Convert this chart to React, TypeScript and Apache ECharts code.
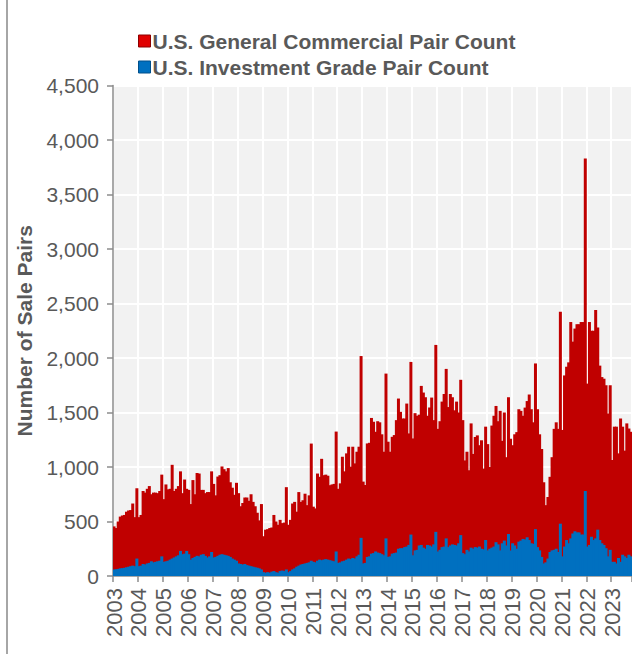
import { useEffect, useRef } from "react";
import * as echarts from "echarts";

const years = [
  2003, 2004, 2005, 2006, 2007, 2008, 2009, 2010, 2011, 2012, 2013,
  2014, 2015, 2016, 2017, 2018, 2019, 2020, 2021, 2022, 2023,
];

const generalCommercial = [
  // 2003
  455, 440, 500, 545, 555, 560, 590, 600, 605, 665, 540, 805,
  // 2004
  540, 560, 780, 765, 800, 825, 750, 765, 765, 760, 780, 930,
  // 2005
  705, 840, 795, 800, 1020, 780, 800, 825, 960, 760, 885, 800,
  // 2006
  790, 660, 880, 750, 945, 940, 790, 790, 760, 770, 770, 960,
  // 2007
  845, 740, 912, 925, 1005, 980, 960, 990, 860, 810, 745, 855,
  // 2008
  760, 640, 670, 720, 720, 690, 750, 680, 640, 580, 510, 660,
  // 2009
  365, 425, 430, 440, 445, 560, 500, 470, 515, 485, 490, 815,
  // 2010
  470, 515, 665, 680, 590, 770, 680, 695, 755, 650, 740, 1215,
  // 2011
  636, 620, 940, 910, 1075, 925, 930, 920, 833, 840, 845, 1325,
  // 2012
  800, 850, 1094, 960, 1125, 1186, 1003, 1186, 1033, 1140, 1186, 2018,
  // 2013
  866, 835, 1216, 1222, 1450, 1415, 1323, 1420, 1410, 1300, 1140, 1857,
  // 2014
  1232, 1140, 1277, 1293, 1430, 1628, 1506, 1445, 1445, 1582, 1308, 1964,
  // 2015
  1262, 1494, 1470, 1480, 1744, 1683, 1640, 1470, 1546, 1637, 1430, 2120,
  // 2016
  1350, 1420, 1600, 1670, 1900, 1550, 1670, 1640, 1520, 1600, 1500, 1800,
  // 2017
  1430, 1060, 1140, 970, 1400, 1120, 1275, 1290, 1200, 1245, 985, 1370,
  // 2018
  1210, 1000, 1380, 1470, 1560, 1420, 1515, 1240, 1500, 1090, 1640, 1260,
  // 2019
  1200, 1300, 1320, 1530, 1515, 1470, 1545, 1605, 1665, 1530, 1410, 1950,
  // 2020
  1530, 1300, 1165, 860, 650, 725, 910, 1090, 1350, 1410, 1350, 2425,
  // 2021
  1340, 1840, 1920, 1960, 2330, 2150, 2270, 2310, 2310, 2330, 2330, 3830,
  // 2022
  1765, 2330, 2250, 2250, 2440, 2280, 1930, 1825, 1810, 1750, 1490, 1750,
  // 2023
  1064, 1370, 1370, 1125, 1445, 1370, 1150, 1400, 1353, 1323,
];

const investmentGrade = [
  // 2003
  60, 62, 65, 70, 72, 75, 80, 85, 90, 95, 90, 160,
  // 2004
  90, 95, 110, 105, 115, 120, 135, 125, 130, 135, 140, 180,
  // 2005
  130, 135, 140, 150, 160, 170, 180, 190, 230, 200, 205, 230,
  // 2006
  200, 150, 165, 175, 185, 180, 195, 200, 185, 170, 180, 220,
  // 2007
  170, 175, 185, 195, 200, 195, 190, 185, 175, 160, 150, 140,
  // 2008
  115, 110, 105, 110, 100, 95, 90, 85, 80, 75, 70, 60,
  // 2009
  35, 30, 35, 30, 40, 45, 35, 30, 45, 50, 45, 60,
  // 2010
  35, 45, 60, 70, 85, 95, 105, 110, 115, 120, 125, 140,
  // 2011
  130, 125, 140, 150, 145, 150, 155, 150, 145, 140, 135, 225,
  // 2012
  120, 125, 135, 140, 150, 160, 155, 165, 160, 180, 195, 350,
  // 2013
  115, 120, 175, 180, 205, 210, 225, 215, 210, 200, 190, 345,
  // 2014
  175, 180, 205, 210, 215, 250, 255, 255, 265, 270, 285, 380,
  // 2015
  190, 235, 240, 280, 285, 260, 250, 285, 280, 270, 290, 405,
  // 2016
  225, 240, 265, 270, 345, 265, 280, 290, 285, 280, 300, 375,
  // 2017
  210, 200, 240, 225, 260, 250, 265, 260, 270, 250, 245, 330,
  // 2018
  235, 250, 260, 270, 310, 290, 235, 300, 325, 280, 385, 235,
  // 2019
  300, 280, 250, 315, 325, 340, 335, 355, 330, 300, 295, 430,
  // 2020
  265, 235, 175, 115, 125, 160, 220, 235, 240, 250, 220, 480,
  // 2021
  180, 270, 330, 300, 345, 390, 410, 400, 400, 380, 380, 780,
  // 2022
  270, 285, 360, 330, 345, 425, 330, 300, 285, 255, 180, 240,
  // 2023
  130, 130, 115, 165, 130, 195, 180, 165, 195, 180,
];

const monthCodes = ["01", "02", "03", "04", "05", "06", "07", "08", "09", "10", "11", "12"];

const seriesNames = ["U.S. General Commercial Pair Count", "U.S. Investment Grade Pair Count"];

const Y_MIN = 0;
const Y_MAX = 4500;
const Y_STEP = 500;

export default function App() {
  const ref = useRef<HTMLDivElement>(null);

  useEffect(() => {
    if (!ref.current) return;
    const chart = echarts.init(ref.current, undefined, { renderer: "svg" });

    const categories: string[] = [];
    years.forEach((y) =>
      monthCodes.forEach((m) => {
        if (categories.length < generalCommercial.length) categories.push(`${y}-${m}`);
      })
    );

    const isYearStart = (i: number) => i % 12 === 0;
    const gray = "#8c8c8c";
    const textGray = "#595959";
    const font = "'Liberation Sans', Arial, Helvetica, sans-serif";

    chart.setOption({
      animation: false,
      backgroundColor: "#ffffff",
      textStyle: { fontFamily: font },
      graphic: [
        {
          type: "line",
          shape: { x1: 7, y1: 0, x2: 7, y2: 654 },
          style: { stroke: "#a6a6a6", lineWidth: 2 },
        },
      ],
      legend: {
        orient: "vertical",
        left: 133,
        top: 23,
        itemWidth: 12,
        itemHeight: 12,
        itemGap: 0,
        icon: "rect",
        textStyle: {
          fontFamily: font,
          fontSize: 21,
          fontWeight: "bold",
          color: textGray,
          lineHeight: 26,
          padding: [0, 0, 0, -3],
        },
        data: [
          { name: seriesNames[0], itemStyle: { color: "#e00000", borderColor: "#8b0000", borderWidth: 1 } },
          { name: seriesNames[1], itemStyle: { color: "#0070c0", borderColor: "#004f8a", borderWidth: 1 } },
        ],
      },
      grid: {
        left: 113,
        top: 85.5,
        right: 0,
        bottom: 78,
        show: true,
        backgroundColor: "#f2f2f2",
        borderWidth: 0,
      },
      xAxis: {
        type: "category",
        data: categories,
        boundaryGap: true,
        axisLine: { show: true, lineStyle: { color: gray, width: 1.5 } },
        axisTick: {
          show: true,
          interval: (i: number) => isYearStart(i),
          length: 6,
          lineStyle: { color: gray, width: 1.5 },
        },
        axisLabel: {
          interval: (i: number) => isYearStart(i),
          formatter: (v: string) => v.slice(0, 4),
          rotate: 90,
          fontSize: 22,
          color: textGray,
          margin: 12,
          fontFamily: font,
        },
        splitLine: {
          show: true,
          interval: (i: number) => isYearStart(i),
          lineStyle: { color: "#ffffff", width: 2 },
        },
      },
      yAxis: {
        type: "value",
        min: Y_MIN,
        max: Y_MAX,
        interval: Y_STEP,
        name: "Number of Sale Pairs",
        nameLocation: "middle",
        nameGap: 78,
        nameTextStyle: { fontSize: 21, fontWeight: "bold", color: textGray, fontFamily: font },
        axisLine: { show: true, lineStyle: { color: gray, width: 1.5 } },
        axisTick: { show: true, length: 6, lineStyle: { color: gray, width: 1.5 } },
        axisLabel: {
          fontSize: 21,
          color: textGray,
          margin: 14,
          fontFamily: font,
          formatter: (v: number) => v.toLocaleString("en-US"),
        },
        splitLine: { show: true, lineStyle: { color: "#ffffff", width: 2 } },
      },
      series: [
        {
          name: seriesNames[0],
          type: "bar",
          data: generalCommercial,
          itemStyle: { color: "#c00000" },
          barWidth: 3,
          barGap: "-100%",
        },
        {
          name: seriesNames[1],
          type: "bar",
          data: investmentGrade,
          itemStyle: { color: "#0070c0" },
          barWidth: 3,
          barGap: "-100%",
        },
      ],
    });

    return () => chart.dispose();
  }, []);

  return (
    <div
      ref={ref}
      style={{ position: "fixed", left: 0, top: 0, width: 632, height: 654 }}
    />
  );
}
